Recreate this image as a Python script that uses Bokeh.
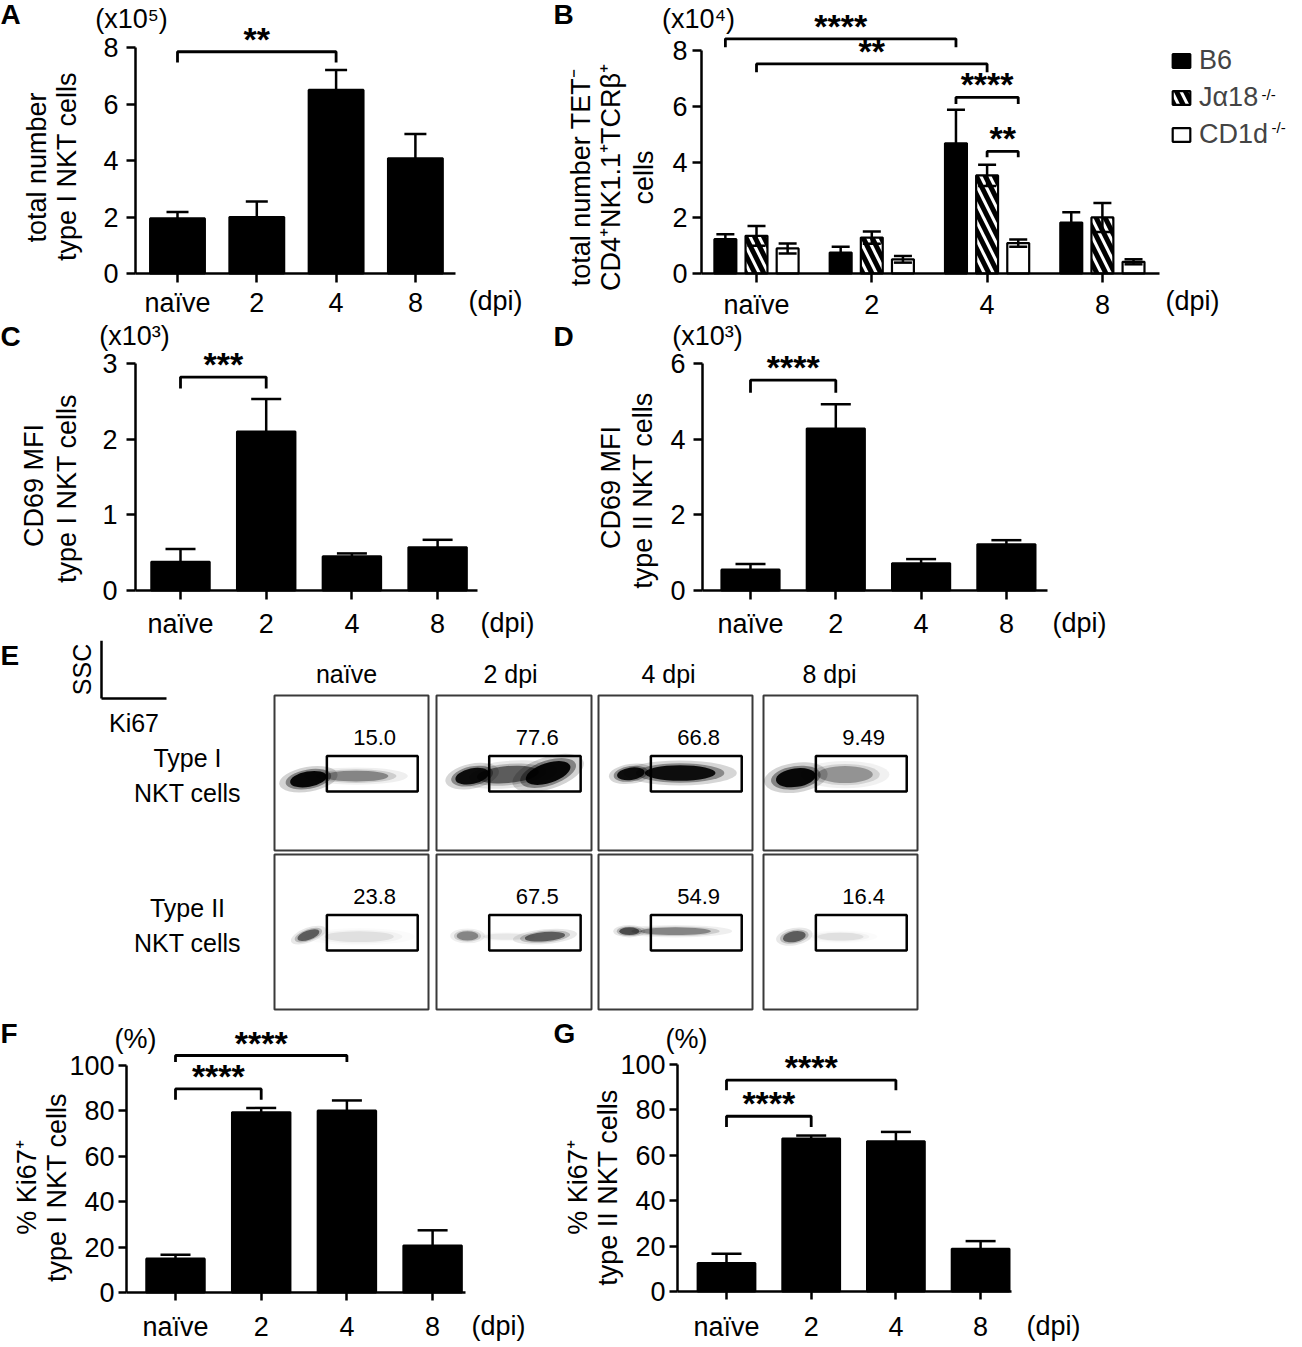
import math
from bokeh.plotting import figure
from bokeh.models import (Range1d, FixedTicker, Label, Whisker, TeeHead,
                          ColumnDataSource, Legend, LegendItem, LinearAxis)
from bokeh.layouts import row, column
from bokeh.transform import dodge
from bokeh.core.properties import value
from bokeh.embed import file_html
from bokeh.resources import INLINE

FONT = "Liberation Sans"
TXT = 27

# ---------------- data ----------------
days = ["naïve", "2", "4", "8"]
dpi_label = "(dpi)"

# A: total number type I NKT cells (x10^5)
a_mean = [1.95, 2.00, 6.50, 4.08]
a_sem = [0.23, 0.55, 0.70, 0.86]
a_ticks = [0, 2, 4, 6, 8]
a_unit = "(x10⁵)"
a_title = ["total number", "type I NKT cells"]
a_sig = [("naïve", "4", 7.85, 7.47, "**")]

# B: TET- CD4+NK1.1+TCRb+ cells (x10^4)
genotypes = ["B6", "Jα18", "CD1d"]
genotype_sup = ["", "-/-", "-/-"]
b6_mean = [1.23, 0.75, 4.67, 1.83]
b6_sem = [0.18, 0.21, 1.20, 0.37]
ja18_mean = [1.35, 1.29, 3.52, 2.01]
ja18_sem = [0.35, 0.22, 0.38, 0.52]
cd1d_mean = [0.90, 0.51, 1.09, 0.42]
cd1d_sem = [0.18, 0.12, 0.13, 0.09]
b_ticks = [0, 2, 4, 6, 8]
b_unit = "(x10⁴)"
b_title = ["total number TET⁻", "CD4⁺NK1.1⁺TCRβ⁺", "cells"]
b_sig = [(("naïve", "B6"), ("4", "B6"), 8.42, 8.12, "****"),
         (("naïve", "Jα18"), ("4", "Jα18"), 7.52, 7.22, "**"),
         (("4", "B6"), ("4", "CD1d"), 6.32, 6.08, "****"),
         (("4", "Jα18"), ("4", "CD1d"), 4.38, 4.17, "**")]

# C: CD69 MFI type I (x10^3)
c_mean = [0.38, 2.10, 0.45, 0.57]
c_sem = [0.17, 0.43, 0.04, 0.10]
c_ticks = [0, 1, 2, 3]
c_unit = "(x10³)"
c_title = ["CD69 MFI", "type I NKT cells"]
c_sig = [("naïve", "2", 2.82, 2.67, "***")]

# D: CD69 MFI type II (x10^3)
d_mean = [0.55, 4.28, 0.72, 1.22]
d_sem = [0.15, 0.64, 0.11, 0.11]
d_ticks = [0, 2, 4, 6]
d_unit = "(x10³)"
d_title = ["CD69 MFI", "type II NKT cells"]
d_sig = [("naïve", "2", 5.56, 5.23, "****")]

# E: flow cytometry (Ki67 vs SSC)
e_cols = ["naïve", "2 dpi", "4 dpi", "8 dpi"]
e_rows = [("Type I", "NKT cells"), ("Type II", "NKT cells")]
e_pct_type1 = ["15.0", "77.6", "66.8", "9.49"]
e_pct_type2 = ["23.8", "67.5", "54.9", "16.4"]
e_gate_ki67 = [0.34, 0.93]
e_gate_ssc = [0.38, 0.61]
# cell clouds: (Ki67, SSC, spread Ki67, spread SSC, tilt deg, density)
e_cloud_type1 = [
    [(0.22, 0.46, 0.24, 0.10, 10, 0.95), (0.53, 0.48, 0.42, 0.07, 0, 0.35)],
    [(0.23, 0.48, 0.22, 0.10, 12, 0.90), (0.46, 0.49, 0.40, 0.11, 5, 0.50),
     (0.72, 0.50, 0.30, 0.13, 18, 0.95)],
    [(0.21, 0.495, 0.18, 0.08, 8, 0.90), (0.53, 0.50, 0.46, 0.10, 0, 0.90)],
    [(0.21, 0.47, 0.26, 0.12, 8, 0.95), (0.53, 0.49, 0.36, 0.11, 0, 0.30)],
]
e_cloud_type2 = [
    [(0.22, 0.48, 0.15, 0.06, 20, 0.50), (0.55, 0.47, 0.45, 0.07, 0, 0.08)],
    [(0.20, 0.475, 0.14, 0.06, 0, 0.35), (0.70, 0.47, 0.26, 0.06, 5, 0.50), (0.45, 0.47, 0.30, 0.04, 0, 0.06)],
    [(0.20, 0.505, 0.13, 0.05, 0, 0.55), (0.50, 0.505, 0.46, 0.05, 0, 0.35)],
    [(0.20, 0.47, 0.15, 0.07, 10, 0.50), (0.50, 0.47, 0.30, 0.05, 0, 0.08)],
]

# F / G: % Ki67+
f_mean = [14.9, 79.4, 80.1, 20.7]
f_sem = [1.7, 1.9, 4.5, 6.7]
g_mean = [12.5, 67.4, 66.2, 18.8]
g_sem = [4.1, 1.3, 4.1, 3.4]
pct_ticks = [0, 20, 40, 60, 80, 100]
pct_unit = "(%)"
f_title = ["% Ki67⁺", "type I NKT cells"]
g_title = ["% Ki67⁺", "type II NKT cells"]
f_sig = [("naïve", "2", 89.7, 84.9, "****"), ("naïve", "4", 104.4, 101.5, "****")]
g_sig = [("naïve", "2", 77.2, 72.5, "****"), ("naïve", "4", 93.1, 88.7, "****")]


# ---------------- helpers ----------------
def lab(p, x, y, text, size=TXT, angle=0.0, bold=False, align="center", baseline="middle"):
    p.add_layout(Label(x=x, y=y, text=text, text_font=FONT, text_font_size=f"{size}px",
                       text_font_style="bold" if bold else "normal", angle=angle,
                       text_align=align, text_baseline=baseline, text_color="black"))


def xpos(day, off=0.0):
    return days.index(day) + 0.5 + off


def bare_fig(W, H, xr, yr, **kw):
    p = figure(width=W, height=H, output_backend="svg", toolbar_location=None,
               x_range=xr, y_range=yr, x_axis_type=None, y_axis_type=None,
               min_border_left=kw.get("l", 0), min_border_right=kw.get("r", 0),
               min_border_top=kw.get("t", 0), min_border_bottom=kw.get("b", 0))
    p.outline_line_color = None
    return p


class Panel:
    """Whole canvas is the plot frame; axes are fixed inside it."""

    def __init__(self, W, H, ax_x, base_y, axis_end, y_top, ymax, yticks, cat0, step,
                 xstd=6, ystd=6, tick_out=9, lw=2.5):
        self.cat0 = cat0
        self.step = step
        self.base_y = base_y
        self.ky = (base_y - y_top) / ymax
        p = bare_fig(W, H, Range1d(self.X(0), self.X(W)), Range1d(self.Y(H), self.Y(0)))
        ticks = [i + 0.5 for i in range(len(days))]
        xa = LinearAxis(ticker=FixedTicker(ticks=ticks),
                        major_label_overrides={t: d for t, d in zip(ticks, days)},
                        bounds=(self.X(ax_x), self.X(axis_end)), fixed_location=0)
        ya = LinearAxis(ticker=FixedTicker(ticks=yticks), bounds=(0, ymax),
                        fixed_location=self.X(ax_x))
        for ax in (xa, ya):
            ax.axis_line_width = lw
            ax.axis_line_color = "black"
            ax.major_tick_line_width = lw
            ax.major_tick_line_color = "black"
            ax.major_tick_out = tick_out
            ax.major_tick_in = 0
            ax.minor_tick_out = 0
            ax.minor_tick_in = 0
            ax.major_label_text_font = FONT
            ax.major_label_text_font_size = f"{TXT}px"
            ax.major_label_text_color = "black"
        xa.major_label_standoff = xstd
        ya.major_label_standoff = ystd
        p.add_layout(xa, "below")
        p.add_layout(ya, "left")
        self.p = p

    def X(self, px):
        return (px - self.cat0) / self.step + 0.5

    def Y(self, py):
        return (self.base_y - py) / self.ky

    def bars(self, means, sems, width, cap, off=0.0, fill="black", hatch=None, lw=2.5):
        src = ColumnDataSource(dict(x=[xpos(d) for d in days], top=means,
                                    hi=[m + s for m, s in zip(means, sems)],
                                    lo=[m - s for m, s in zip(means, sems)]))
        kw = {}
        if hatch:
            kw = dict(hatch_pattern=hatch, hatch_color="black", hatch_weight=5, hatch_scale=18)
        r = self.p.vbar(x=dodge("x", off), top="top", width=width, source=src,
                        fill_color=fill, line_color="black", line_width=2.2, **kw)
        w = Whisker(source=src, base=dodge("x", off), upper="hi", lower="lo", line_width=lw,
                    line_color="black", level="overlay",
                    upper_head=TeeHead(size=cap, line_width=lw, line_color="black"),
                    lower_head=TeeHead(size=cap, line_width=lw, line_color="black"))
        self.p.add_layout(w)
        return r

    def sig(self, x0, x1, y, yd, stars, lw=2.8):
        self.p.line([x0, x0, x1, x1], [yd, y, y, yd], line_width=lw, line_color="black")
        self.p.text(x=[(x0 + x1) / 2], y=[y], text=[stars], text_font=value(FONT),
                    text_font_size="34px", text_font_style="bold", text_align="center",
                    text_baseline="middle", y_offset=-13, text_color="black")

    def titles(self, letter, lpos, unit, upos, lines, lpos_list, dpos):
        lab(self.p, self.X(lpos[0]), self.Y(lpos[1]), letter, size=28, bold=True, align="left")
        lab(self.p, self.X(upos[0]), self.Y(upos[1]), unit)
        for t, (px, py) in zip(lines, lpos_list):
            lab(self.p, self.X(px), self.Y(py), t, angle=math.pi / 2)
        lab(self.p, self.X(dpos[0]), self.Y(dpos[1]), dpi_label)


# ---------------- A ----------------
A = Panel(550, 320, 135, 273, 455, 47, 8, a_ticks, 177, 79.3, xstd=5, ystd=8)
A.bars(a_mean, a_sem, 0.69, 22)
for d0, d1, y, yd, s in a_sig:
    A.sig(xpos(d0), xpos(d1), y, yd, s)
A.titles("A", (0, 14), a_unit, (131, 18), a_title, [(36, 167), (66, 166)], (495, 300))

# ---------------- B ----------------
B = Panel(744, 320, 151, 273, 609, 50, 8, b_ticks, 206, 115.3, xstd=7, ystd=5)
goff = [-0.27, 0.0, 0.27]
rB6 = B.bars(b6_mean, b6_sem, 0.19, 18, off=goff[0], fill="black")
rJa = B.bars(ja18_mean, ja18_sem, 0.19, 18, off=goff[1], fill="white", hatch="\\")
rCD = B.bars(cd1d_mean, cd1d_sem, 0.19, 18, off=goff[2], fill="white")
for (d0, g0), (d1, g1), y, yd, s in b_sig:
    B.sig(xpos(d0, goff[genotypes.index(g0)]), xpos(d1, goff[genotypes.index(g1)]), y, yd, s)
B.titles("B", (3, 14), b_unit, (148, 18), b_title, [(30, 177), (60, 177), (93, 177)], (642, 300))
leg = Legend(items=[LegendItem(label=g, renderers=[r]) for g, r in zip(genotypes, [rB6, rJa, rCD])],
             location=(620, 170), glyph_width=22, glyph_height=17, label_standoff=7,
             label_text_font=FONT, label_text_font_size="27px", label_height=27,
             spacing=6, padding=0, margin=0, border_line_color=None,
             background_fill_alpha=0)
B.p.add_layout(leg)
sup_x = [0, 711, 721]
sup_y = [70, 94, 127]
for i, sup in enumerate(genotype_sup):
    if sup:
        lab(B.p, B.X(sup_x[i]), B.Y(sup_y[i]), sup, size=15, align="left")

# ---------------- C ----------------
C = Panel(550, 320, 135, 270, 477, 43, 3, c_ticks, 180, 85.7, xstd=9, ystd=9)
C.bars(c_mean, c_sem, 0.68, 30)
for d0, d1, y, yd, s in c_sig:
    C.sig(xpos(d0), xpos(d1), y, yd, s)
C.titles("C", (0, 16), c_unit, (134, 15), c_title, [(33, 165), (66, 168)], (507, 302))

# ---------------- D ----------------
D = Panel(744, 320, 152, 270, 497, 43, 6, d_ticks, 200, 85.3, xstd=9, ystd=8)
D.bars(d_mean, d_sem, 0.68, 30)
for d0, d1, y, yd, s in d_sig:
    D.sig(xpos(d0), xpos(d1), y, yd, s)
D.titles("D", (3, 16), d_unit, (157, 15), d_title, [(60, 167), (92, 170)], (529, 302))

# ---------------- E ----------------
# left part: axis icon and row labels (units: page pixels of this strip)
el = bare_fig(272, 372, Range1d(0, 272), Range1d(372, 0))
for side, name, std, loc, bnd in (("left", "SSC", 6, 101, (0, 58)), ("below", "Ki67", 10, 58, (101, 166))):
    ax = LinearAxis(ticker=FixedTicker(ticks=[]), axis_label=name, fixed_location=loc, bounds=bnd)
    ax.axis_label_text_font = FONT
    ax.axis_label_text_font_size = "25px"
    ax.axis_label_text_font_style = "normal"
    ax.axis_label_text_color = "black"
    ax.axis_label_standoff = std
    ax.major_label_standoff = 0
    ax.major_tick_out = 0
    ax.major_tick_in = 0
    ax.minor_tick_out = 0
    ax.minor_tick_in = 0
    ax.axis_line_width = 2.5
    ax.axis_line_color = "black"
    el.add_layout(ax, side)
lab(el, 0, 15, "E", size=28, bold=True, align="left")
row_label_y = [(117, 152), (267, 302)]
for (l1, l2), (y1, y2) in zip(e_rows, row_label_y):
    lab(el, 187, y1, l1, size=25)
    lab(el, 187, y2, l2, size=25)

# column headers strip
eh = bare_fig(658, 53, Range1d(272, 930), Range1d(53, 0))
header_x = [346, 510, 668, 829]
for hx, name in zip(header_x, e_cols):
    lab(eh, hx, 33, name, size=25)

col_borders = [(2, 154, 4), (4, 155, 3), (4, 154, 5), (6, 154, 13)]


def flow_box(lb, fw, rb, tb, bb, clouds, pct):
    p = bare_fig(lb + fw + rb, tb + 155 + bb, Range1d(0, 1), Range1d(0, 1), l=lb, r=rb, t=tb, b=bb)
    p.outline_line_color = "#3a3a3a"
    p.outline_line_width = 2
    # each cloud drawn as a dense core with a fainter halo
    for scale, fade in ((1.6, 0.18), (1.25, 0.4), (1.0, 1.0)):
        src = ColumnDataSource(dict(x=[c[0] for c in clouds], y=[c[1] for c in clouds],
                                    w=[c[2] * scale for c in clouds], h=[c[3] * scale for c in clouds],
                                    a=[c[4] for c in clouds], al=[c[5] * fade for c in clouds]))
        p.ellipse(x="x", y="y", width="w", height="h", angle="a", angle_units="deg", source=src,
                  fill_color="black", fill_alpha="al", line_color=None)
    p.quad(left=[e_gate_ki67[0]], right=[e_gate_ki67[1]], bottom=[e_gate_ssc[0]], top=[e_gate_ssc[1]],
           fill_color=None, line_color="black", line_width=2.5)
    p.text(x=[0.65], y=[0.73], text=[pct], text_font=value(FONT), text_font_size="22px",
           text_align="center", text_baseline="middle", text_color="black")
    return p


cols = []
for i in range(4):
    lb, fw, rb = col_borders[i]
    top = flow_box(lb, fw, rb, 2, 2, e_cloud_type1[i], e_pct_type1[i])
    bot = flow_box(lb, fw, rb, 2, 3, e_cloud_type2[i], e_pct_type2[i])
    cols.append(column(top, bot, spacing=0))
e_right = column(eh, row(*cols, spacing=0), spacing=0)

# ---------------- F ----------------
F = Panel(550, 331, 126, 280, 465, 53, 100, pct_ticks, 175, 85.7, xstd=11, ystd=4, tick_out=8)
F.bars(f_mean, f_sem, 0.68, 30)
for d0, d1, y, yd, s in f_sig:
    F.sig(xpos(d0), xpos(d1), y, yd, s)
F.titles("F", (0, 21), pct_unit, (135, 26), f_title, [(26, 175), (56, 175)], (498, 313))

# ---------------- G ----------------
G = Panel(744, 331, 127, 279, 461, 52, 100, pct_ticks, 176, 84.7, xstd=12, ystd=4, tick_out=8)
G.bars(g_mean, g_sem, 0.68, 30)
for d0, d1, y, yd, s in g_sig:
    G.sig(xpos(d0), xpos(d1), y, yd, s)
G.titles("G", (3, 21), pct_unit, (136, 26), g_title, [(27, 175), (57, 175)], (503, 313))

layout = column(row(A.p, B.p, spacing=0),
                row(C.p, D.p, spacing=0),
                row(el, e_right, spacing=0),
                row(F.p, G.p, spacing=0),
                spacing=0)

open("out.html", "w").write(file_html(layout, INLINE))
